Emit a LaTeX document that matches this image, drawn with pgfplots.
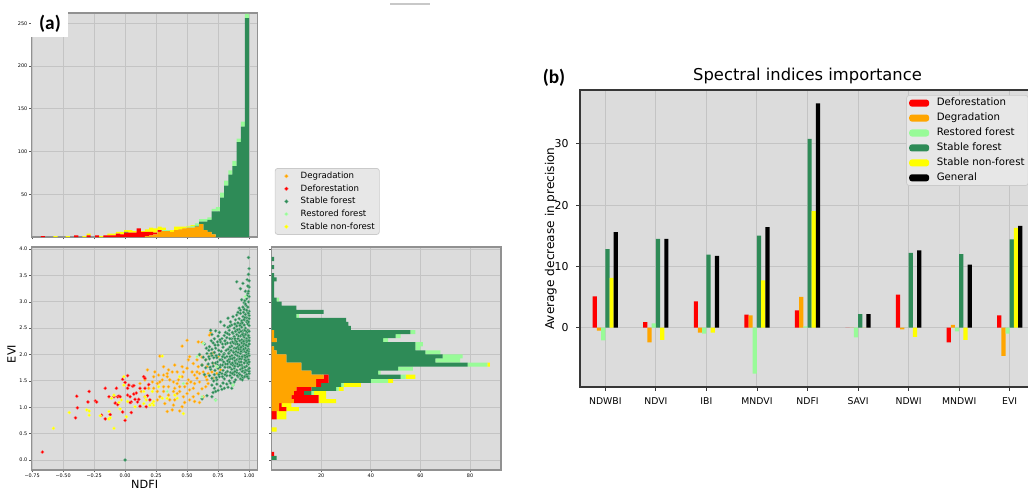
\documentclass[border=0pt]{standalone}
\usepackage{fontspec}
\setmainfont{DejaVu Sans}
\newfontfamily\carlito{Carlito}
\usepackage{pgfplots}
\usepackage{pgfplotstable}
\pgfplotsset{compat=1.18}

\definecolor{cbg}{RGB}{220,220,220}
\definecolor{cgrid}{RGB}{196,196,196}
\definecolor{corange}{RGB}{255,165,0}
\definecolor{cred}{RGB}{255,0,0}
\definecolor{cgreen}{RGB}{46,139,87}
\definecolor{clgreen}{RGB}{152,251,152}
\definecolor{cyellow}{RGB}{255,255,0}
\definecolor{cspineA}{RGB}{145,145,145}
\definecolor{ctickA}{RGB}{90,90,90}
\definecolor{cspineB}{RGB}{55,55,55}
\definecolor{clegfill}{RGB}{231,231,231}
\definecolor{clegdraw}{RGB}{202,202,202}
\definecolor{cline}{RGB}{200,200,200}

% NDFI histogram, 50 bins: centre, Degradation, Deforestation, Stable forest, Restored forest, Stable non-forest
\pgfplotstableread{
c O R G L Y
-0.663 0 1 0 0 0
-0.630 0 0 0 0 0
-0.596 0 0 0 0 0
-0.562 0 0 0 0 1
-0.529 0 0 0 0 0
-0.495 0 0 0 0 0
-0.462 0 0 0 0 1
-0.428 0 0 0 0 0
-0.394 0 2 0 0 0
-0.361 0 0 0 0 0
-0.327 0 0 0 0 1
-0.294 0 2 0 0 2
-0.260 0 0 0 0 0
-0.226 0 2 0 0 0
-0.193 0 0 0 0 1
-0.159 0 2 0 0 0
-0.126 0 2 0 0 2
-0.092 0 2 0 0 2
-0.058 0 4 0 0 2
-0.025 0 3 0 0 3
0.009 0 5 1 0 2
0.042 0 5 0 0 3
0.076 0 5 0 0 2
0.110 0 10 0 0 0
0.143 0 6 0 0 1
0.177 1 5 0 0 3
0.210 2 4 0 0 5
0.244 3 2 0 0 5
0.278 6 2 0 0 4
0.311 7 0 0 1 3
0.345 7 0 0 1 0
0.378 6 0 0 0 2
0.412 8 0 0 0 4
0.446 9 0 0 0 3
0.479 10 0 0 0 2
0.513 11 0 0 1 1
0.546 11 0 0 2 1
0.580 12 0 1 3 0
0.614 15 0 3 3 0
0.647 8 0 10 3 0
0.681 6 0 14 3 0
0.714 3 0 27 3 0
0.748 0 0 30 5 0
0.782 0 0 46 6 0
0.815 0 0 60 6 0
0.849 0 0 73 5 0
0.882 0 0 83 6 0
0.916 0 0 111 4 0
0.950 0 0 129 6 0
0.983 0 0 256 5 0
}\tophist

% EVI histogram, 50 bins
\pgfplotstableread{
c O R G L Y
0.039 0 0 2 0 0
0.116 0 1 0 0 0
0.193 0 0 0 0 0
0.270 0 0 0 0 0
0.347 0 0 0 0 0
0.424 0 0 0 0 0
0.501 0 0 0 0 0
0.578 0 0 0 0 2
0.655 0 0 0 0 0
0.732 0 0 0 0 0
0.809 0 2 0 0 4
0.886 0 2 0 0 4
0.963 3 3 0 0 5
1.040 3 1 0 0 4
1.117 9 10 0 0 7
1.194 8 11 0 0 3
1.271 9 4 3 1 5
1.348 10 6 10 1 2
1.425 18 2 8 1 7
1.502 18 5 17 7 2
1.579 21 2 29 2 4
1.656 16 0 27 1 0
1.733 12 0 39 6 0
1.810 12 0 67 8 1
1.887 6 0 60 10 0
1.964 6 0 63 8 0
2.041 2 0 60 6 0
2.118 1 0 57 2 0
2.195 0 0 58 3 0
2.272 2 0 43 2 0
2.349 1 0 49 2 0
2.426 1 0 55 2 0
2.503 0 0 32 0 0
2.580 0 0 31 0 0
2.657 0 0 30 0 0
2.734 0 0 10 1 0
2.811 0 0 21 0 0
2.888 0 0 10 0 0
2.965 0 0 4 0 0
3.042 0 0 2 1 0
3.119 0 0 1 0 0
3.196 0 0 1 0 0
3.273 0 0 1 0 0
3.350 0 0 1 0 0
3.427 0 0 2 0 0
3.504 0 0 1 0 0
3.581 0 0 0 0 0
3.658 0 0 1 0 0
3.735 0 0 0 0 0
3.812 0 0 1 0 0
}\righthist

% importance: Deforestation, Degradation, Restored, Stable forest, Stable non-forest, General
\pgfplotstableread{
i R O L G Y K
0 5.1 -0.5 -2.1 12.8 8.1 15.6
1 0.9 -2.4 0.7 14.5 -2.0 14.5
2 4.3 -0.8 -1.0 11.9 -0.8 11.7
3 2.1 2.0 -7.5 15.0 7.7 16.4
4 2.8 5.0 0.2 30.8 19.0 36.6
5 0 0 -1.6 2.2 0 2.2
6 5.4 -0.3 0 12.2 -1.5 12.6
7 -2.4 0.45 -0.6 12.0 -2.0 10.3
8 2.0 -4.6 -1.0 14.4 16.3 16.6
}\bars

\pgfplotsset{
  panelA/.style={
    scale only axis,
    axis background/.style={fill=cbg},
    grid=major,
    grid style={cgrid, line width=0.5pt},
    axis line style={draw=cspineA, line width=0.6pt},
    tick style={draw=ctickA, line width=0.35pt},
    tick align=outside,
    major tick length=1.4pt,
    xtick pos=bottom, ytick pos=left,
    tick label style={font=\fontsize{2.8}{3.2}\selectfont, inner sep=0.8pt},
  },
  barleg/.style={legend image code/.code={\path[##1] (0pt,-2pt) rectangle (11.3pt,2pt);}},
  dotleg/.style={legend image code/.code={\path (0cm,0cm) (0.3cm,0cm); \draw[##1, mark size=1.1pt] plot coordinates {(0.148cm,0cm)};}},
}

\begin{document}
\begin{tikzpicture}
\path[use as bounding box, fill=white] (0,0) rectangle (20.56cm,9.78cm);

% ---------- (a) top histogram ----------
\begin{axis}[panelA,
    at={(0.63cm,5.04cm)}, anchor=south west,
    width=4.526cm, height=4.48cm,
    xmin=-0.755, xmax=1.07, ymin=0, ymax=262,
    xtick={-0.75,-0.5,-0.25,0,0.25,0.5,0.75,1}, xticklabels={},
    ytick={50,100,150,200,250}, yticklabels={50,100,150,200,250},
    ybar stacked, bar width=0.0336,
]
\addplot[fill=corange, draw=none] table[x=c,y=O]{\tophist};
\addplot[fill=cred, draw=none] table[x=c,y=R]{\tophist};
\addplot[fill=cgreen, draw=none] table[x=c,y=G]{\tophist};
\addplot[fill=clgreen, draw=none] table[x=c,y=L]{\tophist};
\addplot[fill=cyellow, draw=none] table[x=c,y=Y]{\tophist};
\end{axis}

% ---------- (a) right histogram ----------
\begin{axis}[panelA,
    at={(5.432cm,0.38cm)}, anchor=south west,
    width=4.588cm, height=4.46cm,
    xmin=0, xmax=92.5, ymin=-0.19, ymax=4.04,
    xtick={20,40,60,80}, xticklabels={20,40,60,80},
    ytick={0,0.5,1,1.5,2,2.5,3,3.5,4}, yticklabels={},
    xbar stacked, bar width=0.077,
]
\addplot[fill=corange, draw=none] table[x=O,y=c]{\righthist};
\addplot[fill=cred, draw=none] table[x=R,y=c]{\righthist};
\addplot[fill=cgreen, draw=none] table[x=G,y=c]{\righthist};
\addplot[fill=clgreen, draw=none] table[x=L,y=c]{\righthist};
\addplot[fill=cyellow, draw=none] table[x=Y,y=c]{\righthist};
\end{axis}

% ---------- (a) scatter ----------
\begin{axis}[panelA,
    at={(0.63cm,0.38cm)}, anchor=south west,
    width=4.526cm, height=4.46cm,
    xmin=-0.755, xmax=1.07, ymin=-0.19, ymax=4.04,
    xtick={-0.75,-0.5,-0.25,0,0.25,0.5,0.75,1},
    xticklabels={−0.75,−0.50,−0.25,0.00,0.25,0.50,0.75,1.00},
    ytick={0,0.5,1,1.5,2,2.5,3,3.5,4},
    yticklabels={0.0,0.5,1.0,1.5,2.0,2.5,3.0,3.5,4.0},
    xlabel={NDFI}, ylabel={EVI},
    label style={font=\fontsize{6.4}{7}\selectfont},
    every axis x label/.append style={at={(axis description cs:0.5,-0.063)}, anchor=center},
    every axis y label/.append style={at={(axis description cs:-0.088,0.52)}, anchor=center},
    legend style={at={(axis description cs:1.075,1.354)}, anchor=north west,
      fill=clegfill, draw=clegdraw,
      rounded corners=1.5pt, font=\fontsize{4.9}{5.6}\selectfont,
      inner xsep=2pt, inner ysep=1.5pt, column sep=3pt,
      nodes={inner sep=0.6pt, text height=3.6pt, text depth=1pt}, row sep=1.4pt},
    legend cell align=left,
]
\addplot[only marks, mark=*, mark size=0.95pt, mark options={fill=corange, draw=corange!55!white, line width=0.15pt}, dotleg] coordinates {
(0.18,1.71)(0.28,1.97)(0.34,1.58)(0.50,2.27)(0.59,2.24)(0.62,2.23)(0.46,2.16)(0.68,2.37)(0.69,2.41)(0.56,1.61)
(0.38,1.67)(0.44,1.39)(0.50,1.26)(0.42,1.45)(0.26,1.45)(0.23,1.58)(0.31,1.30)(0.36,1.14)(0.40,1.14)(0.55,1.20)
(0.46,1.01)(0.44,0.93)(0.60,1.09)(0.62,1.35)(0.66,1.52)(0.63,1.67)(0.59,1.77)(0.55,1.83)(0.51,1.90)(0.60,1.99)
(0.65,1.90)(0.69,1.99)(0.71,1.83)(0.74,1.64)(0.67,1.64)(0.56,1.45)(0.51,1.52)(0.47,1.67)(0.42,1.67)(0.34,1.64)
(0.30,1.52)(0.26,1.30)(0.28,1.20)(0.32,1.07)(0.39,1.04)(0.42,1.26)(0.47,1.20)(0.52,1.33)(0.59,1.26)(0.65,1.39)
(0.39,1.48)(0.35,1.39)(0.31,1.61)(0.22,1.48)(0.19,1.36)(0.23,1.36)(0.27,1.61)(0.36,1.52)(0.40,1.36)(0.44,1.30)
(0.48,1.39)(0.53,1.48)(0.58,1.55)(0.60,1.48)(0.50,1.74)(0.54,1.67)(0.58,1.67)(0.62,1.80)(0.66,1.77)(0.70,1.67)
(0.71,1.55)(0.46,1.77)(0.40,1.80)(0.35,1.71)(0.31,1.77)(0.24,1.67)(0.12,1.45)(0.13,1.30)(0.16,1.52)(0.26,1.14)
(0.34,0.92)(0.38,0.95)(0.48,1.09)(0.52,1.14)(0.56,1.11)(0.63,1.20)(0.55,1.36)(0.50,1.45)(0.43,1.52)(0.46,1.58)
(0.39,1.30)(0.35,1.23)(0.31,1.39)(0.28,1.48)(0.60,1.64)(0.65,1.58)(0.67,1.45)(0.58,1.90)(0.52,1.96)(0.74,1.77)
(0.77,1.71)(0.75,1.96)(0.71,2.03)(0.62,1.95)
};
\addlegendentry{Degradation}
\addplot[only marks, mark=*, mark size=0.95pt, mark options={fill=cred, draw=cred!55!white, line width=0.15pt}, dotleg] coordinates {
(-0.667,0.15)(-0.39,1.21)(-0.385,0.99)(-0.40,0.80)(-0.29,1.30)(-0.30,1.10)(-0.24,1.12)(-0.23,1.10)(-0.16,1.36)(-0.16,0.78)
(-0.13,1.20)(-0.12,0.86)(-0.08,1.08)(-0.07,1.36)(-0.06,1.20)(-0.06,1.05)(-0.05,1.21)(-0.02,1.53)(-0.02,0.91)(0.00,1.47)
(0.02,1.36)(0.02,1.23)(0.03,1.42)(0.02,1.60)(0.05,1.10)(0.05,0.90)(0.06,1.40)(0.07,1.41)(0.07,1.25)(0.08,1.15)
(0.09,1.27)(0.10,1.10)(0.11,1.15)(0.12,1.36)(0.12,1.02)(0.15,1.58)(0.16,1.55)(0.16,1.36)(0.16,1.20)(0.18,1.22)
(0.19,1.43)(0.20,1.14)(0.04,1.09)(-0.04,1.20)(-0.19,0.85)(-0.09,1.20)(0.00,0.75)(0.04,1.20)(0.17,1.01)
};
\addlegendentry{Deforestation}
\addplot[only marks, mark=*, mark size=0.95pt, mark options={fill=cgreen, draw=cgreen!55!white, line width=0.15pt}, dotleg] coordinates {
(0.00,0.00)
(0.995,3.84)(1.0,3.63)(0.995,3.52)(0.90,3.38)(0.95,3.35)(0.985,3.42)(0.93,3.25)(0.99,3.16)(0.97,3.20)(1.0,3.28)
(0.98,3.06)(0.995,3.00)(0.96,2.98)(0.94,3.04)(1.0,3.10)(0.96,2.86)(0.99,2.90)(0.92,2.88)(0.975,2.93)(1.0,2.82)
(0.93,2.78)(0.97,2.76)(0.99,2.80)(0.90,2.75)(0.95,2.72)(1.0,2.74)(0.98,2.70)(0.87,2.72)(0.89,2.66)(0.92,2.68)
(0.94,2.64)(0.96,2.66)(0.98,2.62)(1.0,2.68)(0.91,2.60)(0.99,2.58)(0.85,2.62)(0.77,2.62)(0.83,2.69)(0.69,2.46)
(0.80,2.55)(0.83,2.52)(0.86,2.56)(0.88,2.50)(0.90,2.54)(0.92,2.48)(0.94,2.52)(0.95,2.45)(0.97,2.50)(0.99,2.46)
(1.0,2.55)(0.96,2.56)(0.93,2.58)(0.89,2.44)(0.84,2.46)(0.73,2.45)(0.81,2.42)
(0.70,2.38)(0.75,2.35)(0.78,2.30)(0.80,2.36)(0.82,2.32)(0.84,2.38)(0.86,2.30)(0.87,2.40)(0.88,2.34)(0.90,2.38)
(0.91,2.30)(0.92,2.42)(0.93,2.35)(0.94,2.28)(0.95,2.40)(0.96,2.33)(0.97,2.38)(0.98,2.30)(0.99,2.36)(1.0,2.32)
(0.985,2.42)(0.965,2.26)(0.89,2.26)(0.76,2.42)(0.72,2.30)
(0.64,2.20)(0.68,2.15)(0.71,2.22)(0.73,2.12)(0.75,2.18)(0.77,2.24)(0.79,2.14)(0.81,2.20)(0.83,2.10)(0.85,2.22)
(0.86,2.16)(0.88,2.12)(0.89,2.20)(0.90,2.24)(0.91,2.14)(0.92,2.18)(0.93,2.10)(0.94,2.22)(0.95,2.16)(0.96,2.20)
(0.97,2.12)(0.98,2.24)(0.99,2.16)(1.0,2.20)(0.995,2.10)(0.975,2.18)(0.955,2.25)(0.935,2.14)(0.875,2.22)(0.845,2.14)
(0.805,2.26)(0.70,2.10)
(0.60,2.00)(0.63,1.95)(0.66,2.02)(0.68,1.92)(0.70,1.98)(0.72,2.04)(0.74,1.94)(0.76,2.00)(0.78,1.90)(0.80,2.02)
(0.82,1.96)(0.84,2.04)(0.85,1.92)(0.86,1.98)(0.87,2.06)(0.88,1.94)(0.89,2.00)(0.90,1.90)(0.91,2.04)(0.92,1.96)
(0.93,2.02)(0.94,1.92)(0.95,1.98)(0.96,2.06)(0.97,1.94)(0.98,2.00)(0.99,1.90)(1.0,1.98)(0.995,2.06)(0.965,1.90)
(0.945,2.06)(0.915,1.92)(0.895,2.06)(0.835,1.90)(0.775,2.06)(0.65,1.90)
(0.62,1.80)(0.65,1.75)(0.67,1.82)(0.69,1.72)(0.71,1.78)(0.73,1.84)(0.75,1.74)(0.77,1.80)(0.79,1.70)(0.81,1.82)
(0.83,1.76)(0.84,1.86)(0.86,1.72)(0.87,1.80)(0.88,1.74)(0.89,1.84)(0.90,1.70)(0.91,1.78)(0.92,1.86)(0.93,1.72)
(0.94,1.80)(0.95,1.76)(0.96,1.84)(0.97,1.70)(0.98,1.78)(0.99,1.86)(1.0,1.74)(0.995,1.82)(0.975,1.88)(0.955,1.68)
(0.935,1.86)(0.855,1.82)(0.795,1.86)(0.725,1.70)
(0.68,1.60)(0.70,1.55)(0.72,1.62)(0.74,1.52)(0.76,1.58)(0.78,1.64)(0.80,1.54)(0.82,1.60)(0.84,1.50)(0.85,1.66)
(0.86,1.56)(0.88,1.62)(0.89,1.52)(0.90,1.66)(0.91,1.58)(0.92,1.64)(0.93,1.54)(0.94,1.60)(0.95,1.56)(0.96,1.66)
(0.97,1.60)(0.98,1.62)(0.99,1.58)(1.0,1.64)(0.995,1.55)(0.965,1.58)(0.945,1.52)(0.875,1.66)(0.815,1.66)(0.765,1.66)
(0.64,1.62)
(0.70,1.42)(0.72,1.36)(0.74,1.44)(0.75,1.32)(0.77,1.40)(0.79,1.46)(0.80,1.36)(0.82,1.44)(0.83,1.38)(0.85,1.46)
(0.87,1.42)(0.88,1.48)(0.73,1.30)(0.71,1.28)(0.78,1.34)(0.86,1.36)
(0.66,1.22)(0.70,1.20)(0.73,1.14)(0.62,1.16)
(0.985,2.64)(0.965,2.70)(0.945,2.60)(0.925,2.55)(0.905,2.47)(0.885,2.58)(0.865,2.42)(0.845,2.54)(0.825,2.40)(0.915,2.35)
(0.935,2.44)(0.955,2.36)(0.975,2.44)(0.995,2.28)(0.985,2.26)(0.965,2.46)(0.945,2.38)(0.925,2.26)(0.905,2.20)(0.885,2.30)
(0.865,2.24)(0.845,2.30)(0.825,2.22)(0.785,2.20)(0.765,2.28)(0.745,2.24)(0.725,2.18)(0.695,2.26)(0.675,2.08)(0.655,2.12)
(0.995,2.02)(0.985,2.08)(0.975,2.04)(0.955,2.10)(0.935,2.06)(0.915,2.10)(0.895,2.12)(0.875,2.04)(0.855,2.08)(0.835,2.02)
(0.815,2.08)(0.795,2.00)(0.755,2.08)(0.735,1.98)(0.715,1.94)(0.695,2.02)(0.675,1.96)(0.985,1.96)(0.965,1.98)(0.945,1.96)
(0.925,1.92)(0.905,1.98)(0.885,1.88)(0.865,1.92)(0.845,1.96)(0.825,1.88)(0.805,1.94)(0.785,1.96)(0.765,1.90)(0.745,1.86)
(0.985,1.84)(0.965,1.76)(0.945,1.74)(0.925,1.80)(0.905,1.82)(0.885,1.78)(0.865,1.84)(0.845,1.76)(0.825,1.82)(0.805,1.76)
(0.785,1.80)(0.765,1.76)(0.745,1.80)(0.705,1.84)(0.685,1.76)(0.985,1.70)(0.965,1.66)(0.945,1.68)(0.925,1.62)(0.905,1.60)
(0.885,1.68)(0.865,1.64)(0.845,1.60)(0.825,1.68)(0.805,1.62)(0.785,1.58)(0.755,1.62)(0.735,1.56)(0.715,1.50)(0.985,1.58)
(0.995,1.70)(0.995,1.90)(0.995,2.36)(0.995,2.62)(0.995,2.78)(0.995,3.20)(1.0,2.44)(1.0,2.26)(1.0,1.86)(1.0,1.68)
(0.97,2.96)(0.95,2.90)(0.93,2.84)(0.91,2.80)(0.98,2.84)(0.955,2.80)(0.965,3.02)(0.985,3.12)(0.99,3.30)(1.0,3.40)
};
\addlegendentry{Stable forest}
\addplot[only marks, mark=*, mark size=0.95pt, mark options={fill=clgreen, draw=clgreen!55!white, line width=0.15pt}, dotleg] coordinates {
(0.34,1.30)(0.47,1.45)(0.62,1.20)(0.97,3.10)(0.87,1.42)(0.74,1.77)(0.58,1.96)(0.63,2.21)(0.73,1.13)
};
\addlegendentry{Restored forest}
\addplot[only marks, mark=*, mark size=0.95pt, mark options={fill=cyellow, draw=cyellow!55!white, line width=0.15pt}, dotleg] coordinates {
(-0.578,0.60)(-0.45,0.90)(-0.31,0.95)(-0.29,0.93)(-0.29,0.85)(-0.20,0.84)(-0.13,0.92)(-0.13,0.78)(-0.12,0.80)(-0.09,0.60)
(-0.09,1.23)(-0.05,1.09)(-0.04,0.97)(-0.01,1.42)(-0.01,1.58)(0.01,0.82)(0.02,1.11)(0.15,1.30)(0.16,1.20)(0.17,1.14)
(0.22,1.07)(0.20,1.04)(0.23,1.04)(0.23,1.11)(0.30,1.97)(0.30,1.17)(0.34,1.17)(0.40,1.23)(0.47,0.88)(0.42,1.17)
(0.44,1.58)(0.15,1.07)(-0.03,1.14)(-0.11,1.17)(0.08,1.01)(0.22,1.30)(0.27,1.39)
};
\addlegendentry{Stable non-forest}
\end{axis}

% ---------- (b) bar chart ----------
\begin{axis}[
    scale only axis,
    at={(11.6cm,2.04cm)}, anchor=south west,
    width=9.1cm, height=5.94cm,
    xmin=-0.5, xmax=8.5, ymin=-9.7, ymax=38.8,
    axis background/.style={fill=cbg},
    grid=major, grid style={cgrid, line width=0.55pt},
    axis line style={draw=cspineB, line width=0.7pt},
    tick style={draw=cspineB, line width=0.45pt},
    tick align=outside, major tick length=2pt,
    xtick pos=bottom, ytick pos=left,
    xtick={0,1,2,3,4,5,6,7,8},
    xticklabels={NDWBI,NDVI,IBI,MNDVI,NDFI,SAVI,NDWI,MNDWI,EVI},
    ytick={0,10,20,30}, yticklabels={0,10,20,30},
    xticklabel style={font=\fontsize{5.3}{6}\selectfont, yshift=-0.3pt},
    yticklabel style={font=\fontsize{6.2}{7}\selectfont, xshift=-1pt},
    ybar, bar width=0.0833,
    title={Spectral indices importance},
    every axis title shift=0pt,
    title style={font=\fontsize{9.3}{11}\selectfont, at={(axis description cs:0.5,1)}, anchor=south, inner sep=0pt, yshift=3.4pt},
    ylabel={Average decrease in precision},
    every axis y label/.append style={at={(axis description cs:-0.064,0.5)}, anchor=center, font=\fontsize{6.9}{8}\selectfont},
    legend style={at={(axis description cs:0.717,0.983)}, anchor=north west,
      fill=clegfill, draw=clegdraw,
      rounded corners=1.5pt, font=\fontsize{5.8}{6.5}\selectfont,
      inner xsep=1.5pt, inner ysep=1pt, column sep=3.8pt,
      nodes={inner sep=0.6pt, text height=4.4pt, text depth=1.2pt}, row sep=1.7pt},
    legend cell align=left,
]
\addplot[fill=cred, draw=none, bar shift=-0.2083, barleg] table[x=i,y=R]{\bars};
\addlegendentry{Deforestation}
\addplot[fill=corange, draw=none, bar shift=-0.125, barleg] table[x=i,y=O]{\bars};
\addlegendentry{Degradation}
\addplot[fill=clgreen, draw=none, bar shift=-0.0417, barleg] table[x=i,y=L]{\bars};
\addlegendentry{Restored forest}
\addplot[fill=cgreen, draw=none, bar shift=0.0417, barleg] table[x=i,y=G]{\bars};
\addlegendentry{Stable forest}
\addplot[fill=cyellow, draw=none, bar shift=0.125, barleg] table[x=i,y=Y]{\bars};
\addlegendentry{Stable non-forest}
\addplot[fill=black, draw=none, bar shift=0.2083, barleg] table[x=i,y=K]{\bars};
\addlegendentry{General}
\end{axis}

% panel labels
\fill[white] (0.62cm,9.04cm) rectangle (1.36cm,9.78cm);
\node[font=\carlito\bfseries\fontsize{11}{13}\selectfont, inner sep=0pt] at (1.0cm,9.30cm) {(a)};
\node[font=\carlito\bfseries\fontsize{11}{13}\selectfont, inner sep=0pt] at (11.08cm,8.22cm) {(b)};
\draw[cline, line width=0.6pt] (7.8cm,9.70cm) -- (8.6cm,9.70cm);
\end{tikzpicture}
\end{document}
